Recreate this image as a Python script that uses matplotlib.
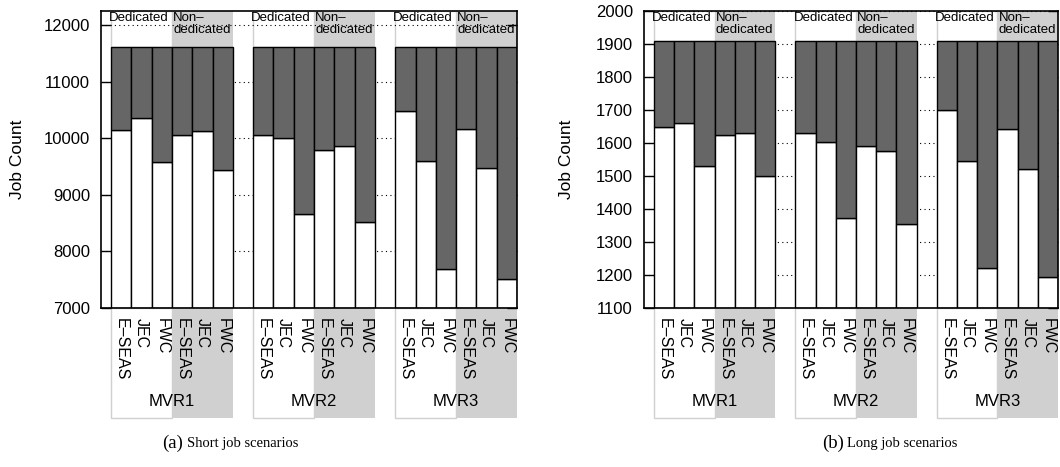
import numpy as np
import matplotlib.pyplot as plt
from matplotlib.patches import Rectangle
import matplotlib.transforms as mtransforms

plt.rcParams['font.family'] = ['Liberation Sans', 'DejaVu Sans']

groups = ['MVR1', 'MVR2', 'MVR3']
policies = ['E–SEAS', 'JEC', 'FWC']
modes = ['Dedicated', 'Non–\ndedicated']

short_total = 11620
short_vals = [[10145, 10360, 9575, 10050, 10125, 9435],
              [10050, 10000, 8655, 9795, 9860, 8525],
              [10475, 9600, 7685, 10160, 9475, 7520]]
short_ticks = [7000, 8000, 9000, 10000, 11000, 12000]

long_total = 1910
long_vals = [[1649, 1660, 1529, 1625, 1629, 1500],
             [1630, 1602, 1374, 1591, 1577, 1356],
             [1701, 1545, 1222, 1642, 1520, 1195]]
long_ticks = [1100, 1200, 1300, 1400, 1500, 1600, 1700, 1800, 1900, 2000]

DARK = '#666666'
LIGHT = '#d0d0d0'


def draw_panel(ax, vals, total, ymin, ymax, ticks):
    blend = mtransforms.blended_transform_factory(ax.transData, ax.transAxes)
    xs, labels = [], []
    for g, row in enumerate(vals):
        x0 = 0.5 + 7 * g
        # header boxes above the bars
        ax.add_patch(Rectangle((x0, total), 3, ymax - total, facecolor='white',
                               edgecolor=LIGHT, lw=1, zorder=0.2))
        ax.add_patch(Rectangle((x0 + 3, total), 3, ymax - total, facecolor=LIGHT,
                               edgecolor='none', zorder=0.2))
        ax.text(x0 - 0.1, 0.995, modes[0], transform=blend, ha='left', va='top',
                fontsize=9.5, zorder=5)
        ax.text(x0 + 3.05, 0.995, modes[1], transform=blend, ha='left', va='top',
                fontsize=9.5, linespacing=0.95, zorder=5)
        # boxes under the axis for the labels
        ax.add_patch(Rectangle((x0, -0.37), 3, 0.37, transform=blend, facecolor='white',
                               edgecolor=LIGHT, lw=1, clip_on=False, zorder=0.1))
        ax.add_patch(Rectangle((x0 + 3, -0.37), 3, 0.37, transform=blend,
                               facecolor=LIGHT, edgecolor='none', clip_on=False, zorder=0.1))
        ax.text(x0 + 3, -0.315, groups[g], transform=blend, ha='center', va='center',
                fontsize=12)
        for j, v in enumerate(row):
            x = 1 + 7 * g + j
            ax.bar(x, v - ymin, bottom=ymin, width=1, color='white',
                   edgecolor='black', lw=1, zorder=2)
            ax.bar(x, total - v, bottom=v, width=1, color=DARK,
                   edgecolor='black', lw=1, zorder=2)
            xs.append(x)
            labels.append(policies[j % 3])
    ax.set_xlim(0, 20.5)
    ax.set_ylim(ymin, ymax)
    ax.set_yticks(ticks)
    ax.set_xticks(xs)
    ax.set_xticklabels(labels, rotation=-90, fontsize=11.5, va='top', ha='center')
    ax.tick_params(axis='x', length=0, pad=7)
    ax.tick_params(axis='y', direction='in', length=7, width=1, right=True,
                   labelsize=12, pad=8)
    ax.set_axisbelow(True)
    ax.yaxis.grid(True, linestyle=(0, (1, 3)), color='black', lw=0.8)
    for s in ax.spines.values():
        s.set_linewidth(1.2)
    ax.set_ylabel('Job Count', fontsize=12.5)


fig = plt.figure(figsize=(10.6, 4.67), dpi=100)
ax1 = fig.add_axes([101 / 1060, 1 - 308 / 467, 416 / 1060, 297 / 467])
ax2 = fig.add_axes([644 / 1060, 1 - 308 / 467, 414 / 1060, 297 / 467])

draw_panel(ax1, short_vals, short_total, 7000, 12250, short_ticks)
draw_panel(ax2, long_vals, long_total, 1100, 2000, long_ticks)
ax1.yaxis.set_label_coords(-0.183, 0.5)
ax2.yaxis.set_label_coords(-0.169, 0.5)

fig.text(162 / 1060, 1 - 443 / 467, '(a)', family='Liberation Serif', fontsize=13.5,
         va='center', ha='left')
fig.text(187 / 1060, 1 - 444 / 467, 'Short job scenarios', family='Liberation Serif',
         fontsize=10.5, va='center', ha='left')
fig.text(822 / 1060, 1 - 443 / 467, '(b)', family='Liberation Serif', fontsize=13.5,
         va='center', ha='left')
fig.text(847 / 1060, 1 - 444 / 467, 'Long job scenarios', family='Liberation Serif',
         fontsize=10.5, va='center', ha='left')

fig.savefig('out.png', dpi=100)
